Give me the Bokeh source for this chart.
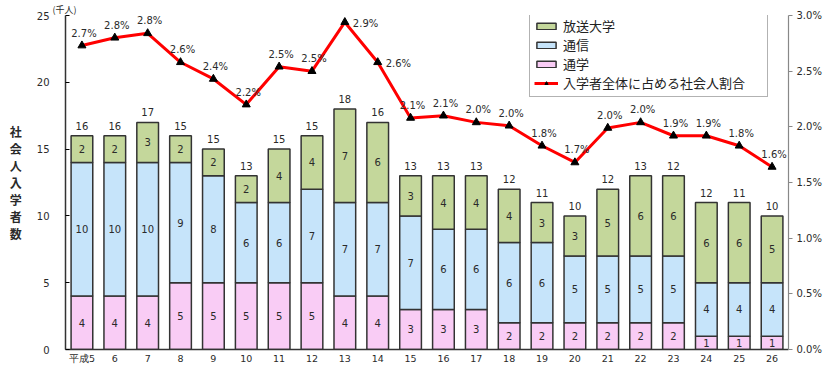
from bokeh.plotting import figure
from bokeh.models import (ColumnDataSource, FactorRange, Range1d, LinearAxis, Legend,
                          LegendItem, Title, PrintfTickFormatter, FixedTicker)
from bokeh.core.properties import value
from bokeh.embed import file_html
from bokeh.resources import INLINE

# ---- data ----
years = ["平成5", "6", "7", "8", "9", "10", "11", "12", "13", "14", "15", "16", "17",
         "18", "19", "20", "21", "22", "23", "24", "25", "26"]
tsugaku = [4, 4, 4, 5, 5, 5, 5, 5, 4, 4, 3, 3, 3, 2, 2, 2, 2, 2, 2, 1, 1, 1]        # 通学
tsushin = [10, 10, 10, 9, 8, 6, 6, 7, 7, 7, 7, 6, 6, 6, 6, 5, 5, 5, 5, 4, 4, 4]     # 通信
hoso = [2, 2, 3, 2, 2, 2, 4, 4, 7, 6, 3, 4, 4, 4, 3, 3, 5, 6, 6, 6, 6, 5]           # 放送大学
total_labels = [16, 16, 17, 15, 15, 13, 15, 15, 18, 16, 13, 13, 13, 12, 11, 10, 12, 13, 12, 12, 11, 10]
pct = [2.73, 2.80, 2.84, 2.58, 2.43, 2.20, 2.54, 2.50, 2.94, 2.58, 2.08, 2.10, 2.04, 2.01,
       1.83, 1.68, 1.99, 2.04, 1.92, 1.92, 1.83, 1.64]
left_ticks = [0, 5, 10, 15, 20, 25]
right_ticks = [0.0, 0.5, 1.0, 1.5, 2.0, 2.5, 3.0]
y_title = "社会人入学者数"
unit_title = "(千人)"

# labels of these points sit to the right of the marker (layout only)
right_side = {8, 9}

# ---- styles ----
C_GREEN = "#c4d79b"
C_BLUE = "#c6e4fa"
C_PINK = "#f9ccf5"
C_EDGE = "#333333"
TXT = "#2a2a2a"
NUM_FONT = "DejaVu Sans"
JP_FONT = "Noto Sans CJK JP"

tops = [a + b + c for a, b, c in zip(tsugaku, tsushin, hoso)]
src = ColumnDataSource(dict(
    x=years, tsugaku=tsugaku, tsushin=tsushin, hoso=hoso,
    c_pink=[t / 2 for t in tsugaku],
    c_blue=[a + b / 2 for a, b in zip(tsugaku, tsushin)],
    c_green=[a + b + c / 2 for a, b, c in zip(tsugaku, tsushin, hoso)],
    l_pink=[str(v) for v in tsugaku],
    l_blue=[str(v) for v in tsushin],
    l_green=[str(v) for v in hoso],
    top=tops, l_total=[str(v) for v in total_labels],
    pct=pct,
))
idx_up = [i for i in range(len(years)) if i not in right_side]
idx_rt = [i for i in range(len(years)) if i in right_side]
src_up = ColumnDataSource(dict(x=[years[i] for i in idx_up], y=[pct[i] for i in idx_up],
                               t=["%.1f%%" % pct[i] for i in idx_up]))
src_rt = ColumnDataSource(dict(x=[years[i] for i in idx_rt], y=[pct[i] for i in idx_rt],
                               t=["%.1f%%" % pct[i] for i in idx_rt]))

p = figure(width=826, height=366, x_range=FactorRange(factors=years),
           y_range=Range1d(0, 25), output_backend="svg", toolbar_location=None,
           min_border_left=65, min_border_right=38, min_border_top=15, min_border_bottom=8)
p.extra_y_ranges = {"pct": Range1d(0, 3.0)}
p.outline_line_color = None
p.xgrid.visible = False
p.ygrid.visible = False
p.background_fill_color = "white"

bars = p.vbar_stack(["tsugaku", "tsushin", "hoso"], x="x", width=0.66, source=src,
                    fill_color=[C_PINK, C_BLUE, C_GREEN], line_color=C_EDGE, line_width=1.5)

txt = dict(text_font=value(NUM_FONT), text_font_size="10px", text_color=TXT,
           text_align="center", text_baseline="middle", source=src)
p.text(x="x", y="c_pink", text="l_pink", **txt)
p.text(x="x", y="c_blue", text="l_blue", **txt)
p.text(x="x", y="c_green", text="l_green", **txt)
p.text(x="x", y="top", text="l_total", y_offset=-6,
       text_font=value(NUM_FONT), text_font_size="10px", text_color=TXT,
       text_align="center", text_baseline="bottom", source=src)

ln = p.line(x="x", y="pct", y_range_name="pct", source=src, line_color="#ff0000", line_width=3)
mk = p.scatter(x="x", y="pct", y_range_name="pct", source=src, marker="triangle",
               size=8, fill_color="black", line_color="black")
p.text(x="x", y="y", text="t", y_range_name="pct", y_offset=-7, x_offset=2,
       text_font=value(NUM_FONT), text_font_size="10px", text_color=TXT,
       text_align="center", text_baseline="bottom", source=src_up)
p.text(x="x", y="y", text="t", y_range_name="pct", x_offset=8, y_offset=1,
       text_font=value(NUM_FONT), text_font_size="10px", text_color=TXT,
       text_align="left", text_baseline="middle", source=src_rt)

# axes
ax = p.xaxis[0]
ax.major_tick_line_color = None
ax.axis_line_color = C_EDGE
ax.axis_line_width = 1.5
ax.major_label_standoff = -3
ax.major_label_text_font = NUM_FONT
ax.major_label_text_font_size = "9.5px"
ax.major_label_text_color = TXT

ay = p.yaxis[0]
ay.ticker = FixedTicker(ticks=left_ticks)
ay.axis_line_color = C_EDGE
ay.axis_line_width = 1.5
ay.major_tick_in = 4
ay.major_tick_out = 0
ay.minor_tick_line_color = None
ay.major_label_standoff = 16
ay.major_label_text_font = NUM_FONT
ay.major_label_text_font_size = "10px"
ay.major_label_text_color = TXT
ay.axis_label = "\n".join(y_title)
ay.axis_label_orientation = "horizontal"
ay.axis_label_standoff = 12
ay.axis_label_text_font = JP_FONT
ay.axis_label_text_font_size = "12px"
ay.axis_label_text_font_style = "bold"
ay.axis_label_text_color = TXT
ay.axis_label_text_line_height = 1.0

ar = LinearAxis(y_range_name="pct", ticker=FixedTicker(ticks=right_ticks),
                formatter=PrintfTickFormatter(format="%.1f%%"))
ar.axis_line_color = "#888888"
ar.axis_line_width = 1.2
ar.major_tick_in = 0
ar.major_tick_out = 4
ar.major_tick_line_color = "#888888"
ar.minor_tick_line_color = None
ar.major_label_standoff = 4
ar.major_label_text_font = NUM_FONT
ar.major_label_text_font_size = "10px"
ar.major_label_text_color = TXT
p.add_layout(ar, "right")

legend = Legend(items=[
    LegendItem(label="放送大学", renderers=[bars[2]]),
    LegendItem(label="通信", renderers=[bars[1]]),
    LegendItem(label="通学", renderers=[bars[0]]),
    LegendItem(label="入学者全体に占める社会人割合", renderers=[ln, mk]),
], location="top_right", label_text_font=JP_FONT, label_text_font_size="13px",
    label_text_color="#222222", glyph_width=24, glyph_height=8, label_height=12,
    label_width=200, spacing=0, padding=4, margin=0, border_line_color="#666666",
    border_line_width=1.5, background_fill_color="white", background_fill_alpha=1.0)
p.add_layout(legend, "center")
legend.location = (464, 252)

p.add_layout(Title(text=unit_title, align="left", offset=-13, standoff=0,
                   text_font=JP_FONT, text_font_size="9px", text_font_style="normal",
                   text_color=TXT), "above")

open("out.html", "w").write(file_html(p, INLINE))
